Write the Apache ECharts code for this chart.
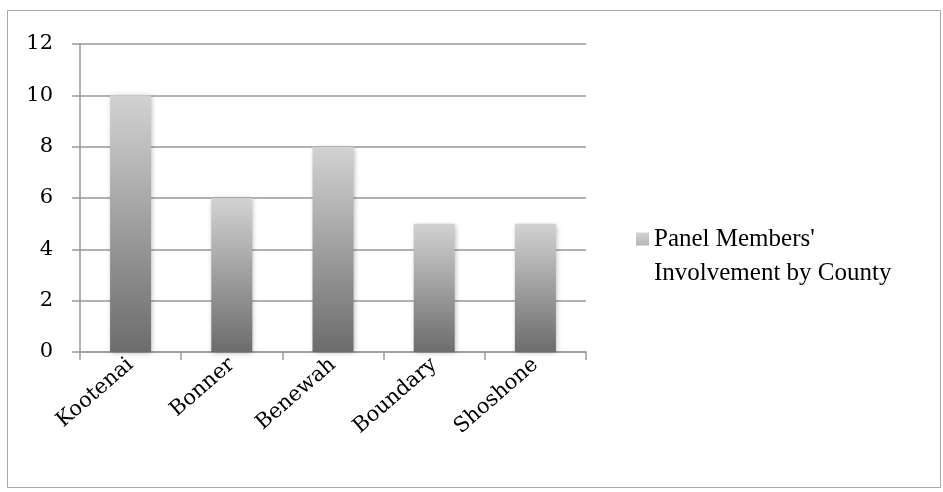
<!DOCTYPE html>
<html>
<head>
<meta charset="utf-8">
<title>Panel Members' Involvement by County</title>
<script src="https://cdn.jsdelivr.net/npm/echarts@6/dist/echarts.min.js"></script>
<style>
  html, body { margin: 0; padding: 0; background: #ffffff; }
  #chart { width: 943px; height: 492px; }
</style>
</head>
<body>
<div id="chart"></div>
<script>
// Counties and the number of panel members involved in each
const counties = ['Kootenai', 'Bonner', 'Benewah', 'Boundary', 'Shoshone'];
const members = [10, 6, 8, 5, 5];
const seriesName = "Panel Members'\nInvolvement by County";
const yTicks = { min: 0, max: 12, interval: 2 };

const axisFont = '"DejaVu Serif", "Liberation Serif", serif';
const legendFont = '"Liberation Serif", "Times New Roman", serif';

// Vertical grey gradient shared by the bars and the legend swatch
const barFill = new echarts.graphic.LinearGradient(0, 0, 0, 1, [
  { offset: 0, color: '#d2d2d2' },
  { offset: 1, color: '#6c6c6c' }
]);

// Legend swatch: a 13px square sitting at the top of a tall item box,
// so it lines up with the first line of the two-line series name
const swatchIcon = 'path://M0,0L13,0L13,13L0,13Z M0,47L13,47Z';

const chart = echarts.init(document.getElementById('chart'), null, { renderer: 'canvas' });

chart.setOption({
  animation: false,
  backgroundColor: '#ffffff',
  graphic: [
    {
      type: 'rect',
      shape: { x: 7.5, y: 10.5, width: 933, height: 477 },
      style: { fill: 'none', stroke: '#a8a8a8', lineWidth: 1 },
      silent: true
    }
  ],
  grid: { left: 80, right: 357, top: 44, bottom: 140, containLabel: false },
  legend: {
    left: 631,
    top: 217,
    orient: 'vertical',
    itemWidth: 13,
    itemHeight: 47,
    itemGap: 0,
    icon: swatchIcon,
    textStyle: {
      fontFamily: legendFont,
      fontSize: 25,
      color: '#000000',
      lineHeight: 34
    },
    data: [seriesName]
  },
  xAxis: {
    type: 'category',
    data: counties,
    axisLine: { show: true, lineStyle: { color: '#999999', width: 1.5 } },
    axisTick: { show: true, length: 8, lineStyle: { color: '#999999', width: 1.5 } },
    axisLabel: {
      rotate: 41,
      margin: 10,
      fontFamily: axisFont,
      fontSize: 21,
      color: '#000000'
    }
  },
  yAxis: {
    type: 'value',
    min: yTicks.min,
    max: yTicks.max,
    interval: yTicks.interval,
    axisLine: { show: true, lineStyle: { color: '#999999', width: 1.5 } },
    axisTick: { show: true, length: 8, lineStyle: { color: '#999999', width: 1.5 } },
    splitLine: { show: true, lineStyle: { color: '#999999', width: 1.5 } },
    axisLabel: {
      margin: 27,
      fontFamily: axisFont,
      fontSize: 21,
      color: '#000000'
    }
  },
  series: [
    {
      name: seriesName,
      type: 'bar',
      data: members,
      barWidth: 41,
      itemStyle: {
        color: barFill,
        shadowBlur: 5,
        shadowColor: 'rgba(0,0,0,0.28)',
        shadowOffsetX: 1,
        shadowOffsetY: 1
      }
    }
  ]
});
</script>
</body>
</html>
